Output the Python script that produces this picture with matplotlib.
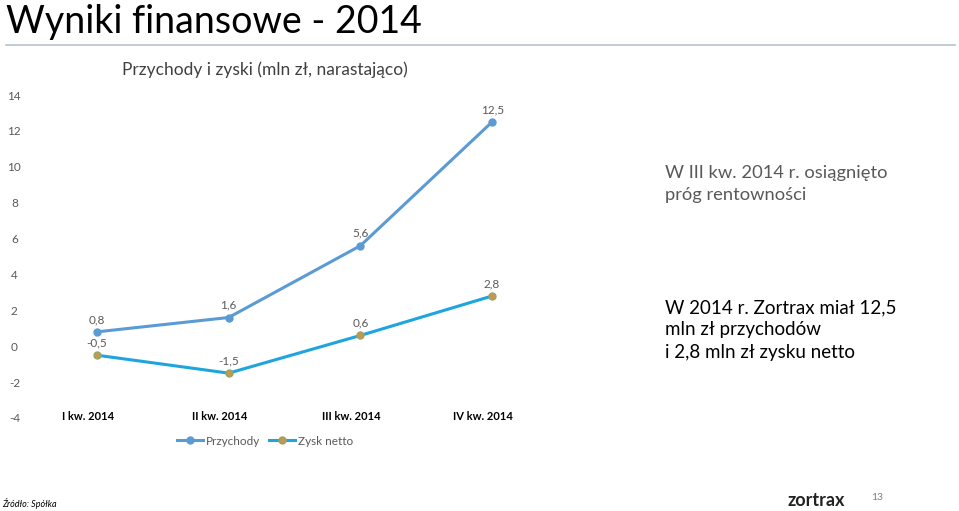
import matplotlib
matplotlib.use('Agg')
from matplotlib import pyplot as plt
from matplotlib.lines import Line2D

# data (mln zł, cumulative)
quarters = ['I kw. 2014', 'II kw. 2014', 'III kw. 2014', 'IV kw. 2014']
przychody = [0.8, 1.6, 5.6, 12.5]
zysk_netto = [-0.5, -1.5, 0.6, 2.8]
yticks = [-4, -2, 0, 2, 4, 6, 8, 10, 12, 14]

plt.rcParams['font.family'] = ['Lato', 'DejaVu Sans']

W, H = 959, 511
fig = plt.figure(figsize=(W / 100, H / 100), dpi=100)
fig.patch.set_facecolor('white')

# title + rule
fig.text(6 / W, 1 - 22 / H, 'Wyniki finansowe - 2014', fontsize=27, fontweight='normal',
         color='black', va='center', ha='left')
fig.add_artist(Line2D([6 / W, 955 / W], [1 - 45 / H, 1 - 45 / H], color='#b4c4d2', lw=1.2))

# chart area
ax_left, ax_right = 31, 558
ax_top, ax_bottom = 95, 418
ax = fig.add_axes([ax_left / W, 1 - ax_bottom / H, (ax_right - ax_left) / W, (ax_bottom - ax_top) / H])
x = list(range(len(quarters)))

ax.plot(x, przychody, color='#5b9bd5', lw=2.2, marker='o', ms=5,
        mfc='#5b9bd5', mec='#5b9bd5', label='Przychody', zorder=3)
ax.plot(x, zysk_netto, color='#1ea5de', lw=2.2, marker='o', ms=5,
        mfc='#c8964f', mec='#97a661', label='Zysk netto', zorder=3)

for xi, v in zip(x, przychody):
    ax.annotate(('%.1f' % v).replace('.', ','), (xi, v), xytext=(0, 5), textcoords='offset points',
                ha='center', va='bottom', fontsize=8.5, color='#595959')
for xi, v in zip(x, zysk_netto):
    ax.annotate(('%.1f' % v).replace('.', ','), (xi, v), xytext=(0, 5), textcoords='offset points',
                ha='center', va='bottom', fontsize=8.5, color='#595959')

ax.set_xlim(-0.5, 3.5)
ax.set_ylim(-4, 14)
ax.set_yticks(yticks)
ax.set_yticklabels([str(t) for t in yticks], fontsize=8.5, color='#595959', ha='center')
ax.tick_params(axis='y', length=0, pad=12)
ax.set_xticks([xi - 0.07 for xi in x])
ax.set_xticklabels(quarters, fontsize=8, fontweight='bold', color='black', va='center')
ax.tick_params(axis='x', length=0, pad=-1)
for s in ax.spines.values():
    s.set_visible(False)
ax.set_facecolor('none')

fig.text(122 / W, 1 - 70 / H, 'Przychody i zyski (mln zł, narastająco)', fontsize=12.5,
         color='#404040', va='center', ha='left')

leg = fig.legend(loc='center', bbox_to_anchor=(265 / W, 1 - 441 / H), ncol=2, frameon=False,
                 fontsize=8.5, handlelength=2.2, columnspacing=0.8, handletextpad=0.2)
for t in leg.get_texts():
    t.set_color('#595959')

# right-hand comments
fig.text(665 / W, 1 - 184 / H, 'W III kw. 2014 r. osiągnięto\npróg rentowności', fontsize=13.2,
         color='#595959', va='center', ha='left', linespacing=1.45)
fig.text(665 / W, 1 - 330 / H, 'W 2014 r. Zortrax miał 12,5\nmln zł przychodów\ni 2,8 mln zł zysku netto',
         fontsize=13.5, color='black', va='center', ha='left', linespacing=1.38)

# footer
fig.text(2 / W, 1 - 503 / H, 'Źródło: Spółka', fontsize=6.5, style='italic', color='black',
         va='center', ha='left')
fig.text(816 / W, 1 - 500 / H, 'zortrax', fontsize=13, fontweight='bold', color='#222222',
         va='center', ha='center')
fig.text(877 / W, 1 - 498 / H, '13', fontsize=7.5, color='#808080', va='center', ha='center')

fig.savefig('out.png', dpi=100)
